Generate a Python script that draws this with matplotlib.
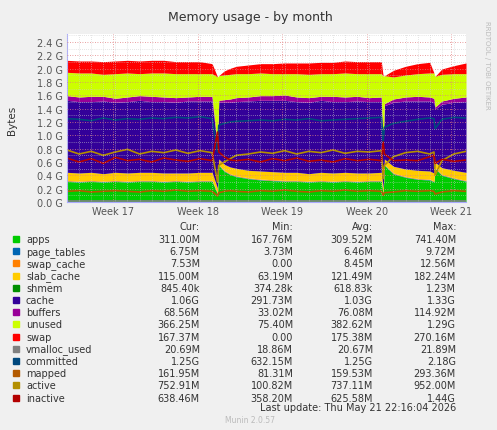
import matplotlib
matplotlib.use("Agg")
import matplotlib.pyplot as plt
import numpy as np
from matplotlib.ticker import FuncFormatter, MultipleLocator

days = [0,1,2,3,4,5,6,7,8,9,10,11,12,12.45,12.55,13,13.5,14,15,16,17,18,19,20,21,22,23,24,25,26,26.15,26.25,27,28,29,30,30.35,30.45,31,32,33]
apps = [0.31,0.30,0.31,0.30,0.31,0.30,0.31,0.31,0.30,0.31,0.30,0.31,0.31,0.12,0.55,0.46,0.41,0.38,0.35,0.33,0.32,0.31,0.31,0.30,0.31,0.30,0.31,0.30,0.31,0.31,0.12,0.55,0.42,0.37,0.34,0.33,0.30,0.50,0.40,0.35,0.31]
page_tables = [0.0065]*41
swap_cache = [0.008]*41
slab_cache = [0.12,0.12,0.12,0.11,0.12,0.12,0.12,0.12,0.12,0.11,0.12,0.12,0.12,0.07,0.08,0.09,0.10,0.11,0.11,0.12,0.12,0.12,0.12,0.11,0.12,0.12,0.12,0.12,0.11,0.12,0.07,0.08,0.10,0.11,0.12,0.12,0.12,0.08,0.10,0.11,0.12]
shmem = [0.0008]*41
cache = [1.08,1.07,1.06,1.09,1.05,1.07,1.08,1.06,1.07,1.06,1.08,1.07,1.07,0.60,0.85,0.93,0.97,1.00,1.04,1.06,1.07,1.08,1.06,1.07,1.08,1.07,1.06,1.08,1.07,1.06,0.62,0.80,0.96,1.02,1.04,1.05,1.05,0.80,0.95,1.02,1.06]
buffers = [0.07,0.07,0.08,0.07,0.06,0.07,0.07,0.08,0.07,0.07,0.06,0.07,0.07,0.02,0.03,0.04,0.05,0.06,0.06,0.07,0.07,0.08,0.07,0.07,0.06,0.08,0.07,0.07,0.06,0.07,0.02,0.03,0.05,0.06,0.07,0.06,0.07,0.03,0.05,0.06,0.07]
unused = [0.35,0.36,0.35,0.33,0.37,0.36,0.33,0.35,0.36,0.36,0.35,0.34,0.34,1.05,0.37,0.37,0.37,0.36,0.35,0.34,0.33,0.32,0.35,0.35,0.34,0.34,0.36,0.34,0.36,0.35,1.04,0.42,0.33,0.33,0.34,0.36,0.38,0.46,0.40,0.37,0.35]
swap = [0.18,0.18,0.18,0.19,0.19,0.19,0.19,0.19,0.19,0.18,0.18,0.18,0.15,0,0,0.06,0.09,0.11,0.13,0.14,0.15,0.16,0.16,0.17,0.17,0.17,0.18,0.18,0.18,0.18,0,0,0.10,0.13,0.15,0.16,0,0,0.08,0.12,0.16]
vmalloc_used = [0.021]*41
committed = [1.25,1.24,1.22,1.26,1.23,1.25,1.24,1.26,1.25,1.27,1.26,1.28,1.25,0.75,1.15,1.18,1.20,1.21,1.22,1.23,1.22,1.24,1.23,1.25,1.22,1.23,1.24,1.25,1.26,1.27,0.90,1.12,1.18,1.21,1.24,1.26,1.25,1.10,1.24,1.27,1.26]
mapped = [0.16,0.17,0.15,0.16,0.17,0.16,0.15,0.17,0.16,0.18,0.16,0.17,0.16,0.09,0.14,0.16,0.17,0.16,0.15,0.17,0.16,0.18,0.16,0.15,0.17,0.16,0.18,0.16,0.17,0.16,0.10,0.14,0.15,0.17,0.16,0.17,0.16,0.12,0.15,0.17,0.16]
active = [0.78,0.72,0.76,0.70,0.75,0.79,0.72,0.76,0.74,0.78,0.73,0.77,0.74,0.30,0.55,0.60,0.65,0.70,0.72,0.75,0.73,0.77,0.72,0.76,0.74,0.78,0.73,0.76,0.75,0.77,0.35,0.55,0.68,0.74,0.76,0.72,0.75,0.40,0.62,0.72,0.76]
inactive = [0.66,0.60,0.65,0.58,0.67,0.62,0.64,0.60,0.66,0.63,0.61,0.65,0.62,1.05,0.75,0.68,0.63,0.62,0.64,0.60,0.65,0.62,0.66,0.61,0.63,0.60,0.65,0.62,0.64,0.62,0.90,0.72,0.62,0.63,0.62,0.68,0.70,0.58,0.64,0.61,0.63]

week_pos = [3.8, 10.8, 17.8, 24.8, 31.8]
week_labels = ["Week 17", "Week 18", "Week 19", "Week 20", "Week 21"]

names = ["apps","page_tables","swap_cache","slab_cache","shmem","cache","buffers","unused","swap",
         "vmalloc_used","committed","mapped","active","inactive"]
colors = ["#00CC00","#0066B3","#FF8000","#FFCC00","#008F00","#330099","#990099","#CCFF00","#FF0000",
          "#808080","#00487D","#B35A00","#B38F00","#B30000"]
cur = ["311.00M","6.75M","7.53M","115.00M","845.40k","1.06G","68.56M","366.25M","167.37M","20.69M","1.25G","161.95M","752.91M","638.46M"]
mn = ["167.76M","3.73M","0.00","63.19M","374.28k","291.73M","33.02M","75.40M","0.00","18.86M","632.15M","81.31M","100.82M","358.20M"]
avg = ["309.52M","6.46M","8.45M","121.49M","618.83k","1.03G","76.08M","382.62M","175.38M","20.67M","1.25G","159.53M","737.11M","625.58M"]
mx = ["741.40M","9.72M","12.56M","182.24M","1.23M","1.33G","114.92M","1.29G","270.16M","21.89M","2.18G","293.36M","952.00M","1.44G"]

W, H = 497, 431
fig = plt.figure(figsize=(W/100, H/100), dpi=100, facecolor="#F0F0F0")
ax = fig.add_axes([67/W, 1-203/H, (466-67)/W, (203-35)/H])
ax.set_facecolor("white")

stack = [apps, page_tables, swap_cache, slab_cache, shmem, cache, buffers, unused, swap]
x = np.array(days)
base = np.zeros(len(days))
for vals, c in zip(stack, colors[:9]):
    top = base + np.array(vals)
    ax.fill_between(x, base, top, color=c, linewidth=0)
    base = top
for vals, c in zip([vmalloc_used, committed, mapped, active, inactive], colors[9:]):
    ax.plot(x, vals, color=c, linewidth=1.2)

ax.set_xlim(0, 33)
ax.set_ylim(0, 2.52)
ax.yaxis.set_major_locator(MultipleLocator(0.2))
ax.yaxis.set_minor_locator(MultipleLocator(0.1))
ax.xaxis.set_minor_locator(MultipleLocator(1))
ax.yaxis.set_major_formatter(FuncFormatter(lambda v, p: f"{v:.1f} G"))
ax.set_xticks(week_pos)
ax.set_xticklabels(week_labels)
ax.set_axisbelow(False)
ax.grid(which="minor", color="#cccccc", linestyle=(0, (1, 2)), linewidth=0.5)
ax.grid(which="major", color="#e08080", linestyle=(0, (1, 2)), linewidth=0.6)
ax.tick_params(labelsize=7, colors="#555555", length=0, pad=3)
ax.tick_params(which="minor", length=0)
for s in ["top", "right"]:
    ax.spines[s].set_visible(False)
for s in ["left", "bottom"]:
    ax.spines[s].set_color("#aaaaff")

fig.text(250/W, 1-18/H, "Memory usage - by month", ha="center", va="center", fontsize=9, color="#333333")
fig.text(12/W, 1-120/H, "Bytes", rotation=90, ha="center", va="center", fontsize=7.5, color="#333333")
fig.text(487/W, 1-65/H, "RRDTOOL / TOBI OETIKER", rotation=270, ha="center", va="center", fontsize=5, color="#bbbbbb")

fs = 7
tc = "#333333"
cols = [(200, "Cur:"), (293, "Min:"), (373, "Avg:"), (456, "Max:")]
for xr, t in cols:
    fig.text(xr/W, 1-227/H, t, ha="right", va="center", fontsize=fs, color=tc)
for i, n in enumerate(names):
    y = 1-(240+12.2*i)/H
    fig.patches.append(plt.Rectangle((13/W, y-3/H), 6/W, 6/H, transform=fig.transFigure, color=colors[i]))
    fig.text(26/W, y, n, ha="left", va="center", fontsize=fs, color=tc)
    for (xr, _), v in zip(cols, [cur[i], mn[i], avg[i], mx[i]]):
        fig.text(xr/W, y, v, ha="right", va="center", fontsize=fs, color=tc)
fig.text(456/W, 1-408/H, "Last update: Thu May 21 22:16:04 2026", ha="right", va="center", fontsize=fs, color=tc)
fig.text(250/W, 1-421/H, "Munin 2.0.57", ha="center", va="center", fontsize=5.5, color="#bbbbbb")

fig.savefig("out.png", dpi=100, facecolor=fig.get_facecolor())
